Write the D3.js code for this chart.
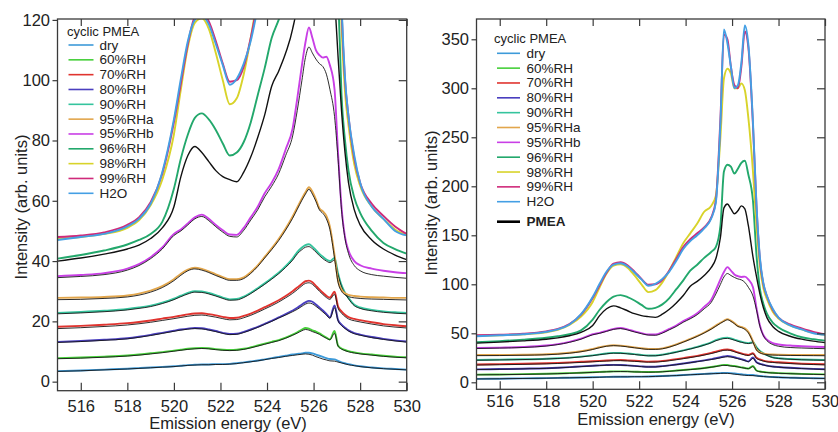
<!DOCTYPE html>
<html><head><meta charset="utf-8">
<script src="https://cdn.jsdelivr.net/npm/d3@7"></script>
<style>
body{margin:0;background:#fff}
svg{display:block}
text{font-family:"Liberation Sans",Arial,Helvetica,sans-serif;fill:#222}
</style>
</head><body>
<svg id="chart" width="838" height="432"></svg>
<script>
// ---- data (emission energy grid, eV) ----
const energy = [515,516,517,518,518.5,519,519.5,520,520.3,520.6,520.9,521.2,521.5,521.8,522.1,522.4,522.7,523,523.3,523.6,523.9,524.2,524.5,524.8,525.1,525.3,525.5,525.65,525.8,525.95,526.1,526.25,526.4,526.55,526.7,526.9,527.05,527.2,527.35,527.5,527.75,528,528.5,529,529.5,530];

const xTicks = [516,518,520,522,524,526,528,530];
const yTicksLeft = [0,20,40,60,80,100,120];
const yTicksRight = [0,50,100,150,200,250,300,350];

const legendNames = ["dry","60%RH","70%RH","80%RH","90%RH","95%RHa","95%RHb","96%RH","98%RH","99%RH","H2O"];
const legendColors = ["#3d9ad9","#46cf3a","#e0342f","#4a3fbf","#35c49d","#e2a64c","#c93fe6","#23a86c","#d8d32a","#cf2a7a","#449fe4"];

const dry   = [3.5,3.7,4.0,4.3,4.5,4.7,4.9,5.1,5.3,5.5,5.6,5.7,5.7,5.8,5.8,5.9,6.1,6.4,6.7,7.0,7.4,7.8,8.2,8.6,9.0,9.2,9.4,9.6,9.6,9.4,9.0,8.6,8.2,7.8,7.5,7.4,6.9,6.4,6.1,5.8,5.4,5.1,4.7,4.4,4.2,4.0];
const dryK  = [3.4,3.6,3.9,4.2,4.4,4.6,4.8,5.0,5.2,5.4,5.5,5.6,5.6,5.7,5.7,5.8,6.0,6.3,6.6,6.9,7.3,7.7,8.0,8.4,8.7,8.9,9.1,9.2,9.1,8.8,8.3,7.9,7.5,7.2,6.9,6.8,6.5,6.2,5.9,5.6,5.3,5.0,4.6,4.3,4.1,3.9];
const rh60  = [7.8,8.0,8.3,8.7,9.0,9.4,9.8,10.3,10.6,10.9,11.1,11.2,11.1,10.8,10.6,10.5,10.6,10.9,11.4,12.0,12.6,13.2,13.8,14.6,15.6,16.4,17.3,17.8,17.6,17.0,16.6,16.0,15.3,14.6,14.0,16.8,12.0,11.0,10.5,10.1,9.7,9.4,9.0,8.6,8.3,8.1];
const rh60K = [7.6,7.8,8.1,8.5,8.8,9.2,9.6,10.1,10.4,10.7,10.9,11.0,10.9,10.6,10.4,10.3,10.4,10.7,11.2,11.8,12.4,13.0,13.6,14.4,15.4,16.1,16.9,17.3,17.1,16.6,16.2,15.7,15.0,14.4,13.9,16.0,11.8,10.8,10.3,9.9,9.5,9.2,8.8,8.4,8.1,7.9];
const rh80  = [13.2,13.5,13.9,14.4,14.9,15.5,16.2,16.9,17.3,17.6,17.8,17.7,17.3,16.8,16.2,15.8,15.9,16.5,17.3,18.2,19.2,20.2,21.3,22.4,23.6,24.5,25.6,26.3,26.8,26.5,25.6,24.6,23.6,22.5,21.3,25.3,20.5,18.9,17.9,17.0,16.1,15.6,14.8,14.2,13.7,13.3];
const rh80K = [13.0,13.3,13.7,14.2,14.7,15.3,16.0,16.7,17.1,17.4,17.6,17.5,17.1,16.6,16.0,15.6,15.7,16.3,17.1,18.0,19.0,20.0,21.1,22.1,23.2,24.0,25.0,25.7,26.1,25.8,25.0,24.1,23.1,22.1,21.0,24.5,20.2,18.6,17.6,16.8,15.9,15.4,14.6,14.0,13.5,13.1];
const rh70  = [18.2,18.5,18.9,19.4,19.8,20.3,20.9,21.5,21.9,22.3,22.6,22.7,22.4,22.0,21.5,21.1,21.2,21.8,22.6,23.6,24.7,25.8,27.0,28.4,30.0,31.2,32.5,33.3,33.5,33.0,31.8,30.6,29.5,28.5,27.9,29.8,25.0,23.3,22.2,21.4,20.8,20.4,19.7,19.1,18.7,18.4];
const rh70K = [17.6,17.9,18.3,18.8,19.2,19.7,20.3,20.9,21.3,21.7,22.0,22.1,21.8,21.4,20.9,20.5,20.6,21.2,22.0,23.0,24.1,25.2,26.4,27.8,29.3,30.5,31.8,32.6,32.8,32.3,31.2,30.0,28.9,27.9,27.3,29.0,24.4,22.7,21.6,20.8,20.2,19.8,19.1,18.5,18.1,17.8];
const rh90  = [22.8,23.1,23.5,24.1,24.6,25.2,26.2,27.5,28.5,29.4,30.0,29.9,29.4,28.7,27.9,27.3,27.4,28.2,29.5,31.0,32.6,34.3,36.1,38.3,40.8,43.0,44.5,45.3,45.6,44.8,43.6,42.4,41.4,40.5,40.0,41.0,36.0,32.0,29.5,27.8,25.5,24.6,23.8,23.3,23.0,22.8];
const rh90K = [22.5,22.8,23.2,23.8,24.3,24.9,25.9,27.2,28.2,29.1,29.7,29.6,29.1,28.4,27.6,27.0,27.1,27.9,29.2,30.7,32.3,34.0,35.8,37.9,40.3,42.4,43.8,44.6,44.8,44.1,43.0,41.8,40.8,40.0,39.5,40.3,35.5,31.6,29.2,27.5,25.2,24.3,23.5,23.0,22.7,22.5];
const rh95a = [27.8,27.9,28.1,28.6,29.2,30.2,31.7,34.0,35.8,37.2,37.8,37.4,36.6,35.6,34.7,34.0,34.0,34.6,36.3,38.6,41.4,44.2,47.3,50.8,54.8,57.8,60.8,62.8,64.5,63.0,60.5,57.5,56.5,55.0,51.5,42.0,33.5,30.5,29.3,28.8,28.4,28.2,28.0,27.9,27.8,27.8];
const rh95aK= [27.2,27.3,27.6,28.1,28.7,29.7,31.2,33.5,35.3,36.8,37.4,37.0,36.2,35.2,34.3,33.6,33.6,34.2,35.9,38.2,41.0,43.8,46.8,50.3,54.2,57.2,60.2,62.2,63.8,62.2,59.8,57.0,55.8,54.0,50.5,41.0,33.0,30.0,28.8,28.2,27.8,27.6,27.4,27.3,27.2,27.1];
const rh95b = [35.0,35.4,36.0,37.5,39.0,41.3,44.5,49.0,50.5,52.5,54.5,55.4,54.0,52.0,50.2,48.8,48.7,51.0,54.5,58.0,62.5,66.0,70.5,77.0,84.0,94.0,105.0,112.5,117.5,114.0,110.0,108.3,107.5,107.8,105.0,97.0,76.0,58.0,48.0,43.5,40.0,38.6,37.5,36.8,36.3,36.0];
const rh95bK= [34.5,34.9,35.5,37.0,38.5,40.8,44.0,48.5,50.0,52.0,54.0,54.8,53.4,51.4,49.6,48.2,48.0,50.2,53.6,57.0,61.3,64.8,69.0,75.0,81.5,90.0,100.0,107.5,111.0,109.0,107.0,105.5,104.5,102.0,97.0,88.0,74.0,57.0,47.5,42.5,38.5,36.8,35.5,35.0,34.6,34.3];
const rh96  = [40.8,42.0,43.5,45.5,47.0,49.0,53.0,64.0,74.0,82.0,87.5,89.0,87.0,83.5,79.0,75.0,76.0,79.5,86.0,95.0,104.0,114.0,120.0,127.0,133.0,138.0,160.0,215.0,222.0,220.0,213.0,218.0,224.0,226.0,212.0,185.0,130.0,95.0,80.0,70.0,61.0,56.0,50.0,46.0,44.0,42.5];
const pmea  = [40.0,41.0,42.3,44.0,45.3,47.5,51.0,58.0,68.0,75.0,78.0,76.0,73.0,70.0,68.0,67.0,66.3,69.5,74.5,81.0,88.5,98.0,103.0,109.0,117.0,126.0,148.0,178.0,182.0,177.0,172.0,175.0,180.0,177.0,160.0,128.0,108.0,90.0,76.0,66.0,57.0,52.0,47.0,44.0,42.0,40.5];
const rh98  = [47.5,48.0,49.0,51.0,53.5,58.5,67.0,82.0,97.0,111.0,119.0,120.5,117.0,109.0,100.0,92.0,94.0,102.0,114.0,128.0,142.0,152.0,162.0,174.0,180.0,190.0,250.0,310.0,320.0,315.0,300.0,300.0,305.0,298.0,270.0,215.0,160.0,118.0,96.0,85.0,72.0,65.0,58.0,54.0,50.5,48.5];
const rh99  = [48.0,48.5,49.5,52.0,54.5,59.5,69.0,86.0,99.0,112.0,121.0,122.5,119.5,113.0,105.5,99.5,100.0,104.5,114.0,126.0,138.0,146.0,152.0,158.0,168.0,185.0,270.0,355.0,350.0,322.0,303.0,300.0,322.0,358.0,342.0,262.0,180.0,125.0,100.0,88.0,74.0,66.0,59.0,55.0,51.5,49.0];
const h2o   = [47.0,48.0,49.0,51.5,54.0,59.0,69.5,87.0,100.5,113.0,120.0,121.5,118.5,112.0,105.0,98.5,100.5,105.5,113.0,124.0,136.0,144.0,150.0,157.0,167.0,183.0,265.0,360.0,346.0,322.0,300.0,303.0,326.0,364.0,345.0,265.0,182.0,127.0,101.0,88.0,75.0,66.0,58.0,54.0,50.0,48.5];

// drawing order: [values, legend index, or -1 for black overlay, -2 for PMEA]
const layers = [
  [dry,0],[dryK,-1],[rh60,1],[rh60K,-1],[rh80,3],[rh80K,-1],[rh70,2],[rh70K,-1],
  [rh90,4],[rh90K,-1],[rh95a,5],[rh95aK,-1],[rh95b,6],[rh95bK,-1],
  [rh96,7],[pmea,-2],[rh98,8],[rh99,9],[h2o,10]
];
layers.forEach(l=>{ if(l[0].length!==energy.length) console.error("length mismatch", l[1], l[0].length); });

const svg = d3.select("#chart");
const FS = 16.5;

const panels = [
  {x0:57.5, x1:406.7, y0:19, y1:390.7, yDom:[-3,120.3], yTicks:yTicksLeft, tickPad:9.6,
   ylabX:21, ylabY:207, xlabX:228, xlabY:428.5, leg:{x:67, y:31, lx0:68.5, lx1:93.5, tx:99.5, y1:45, dy:14.83, pmea:false}},
  {x0:476.5, x1:825, y0:19, y1:389.3, yDom:[-7.14,370.7], yTicks:yTicksRight, tickPad:5.5,
   ylabX:431, ylabY:203, xlabX:656, xlabY:424.5, leg:{x:494, y:38.3, lx0:497, lx1:520, tx:526.5, y1:53.3, dy:14.84, pmea:true}}
];

panels.forEach((p,pi)=>{
  const x = d3.scaleLinear().domain([515,530]).range([p.x0,p.x1]);
  const y = d3.scaleLinear().domain(p.yDom).range([p.y1,p.y0]);
  const g = svg.append("g");
  const clipId = "clip"+pi;
  svg.append("defs").append("clipPath").attr("id",clipId)
     .append("rect").attr("x",p.x0).attr("y",p.y0).attr("width",p.x1-p.x0).attr("height",p.y1-p.y0);

  const line = d3.line().x((d,i)=>x(energy[i])).y(d=>y(d)).curve(d3.curveMonotoneX);
  const plot = g.append("g").attr("clip-path",`url(#${clipId})`);
  layers.forEach(([vals,idx])=>{
    let color, w;
    if(idx>=0){ color = legendColors[idx]; w = 1.9; }
    else if(idx===-1){ color = "#151515"; w = 0.9; }
    else { color = "#111"; w = 1.4; }
    plot.append("path").datum(vals).attr("d",line)
      .attr("fill","none").attr("stroke",color).attr("stroke-width",w)
      .attr("stroke-linejoin","round");
  });

  // frame
  g.append("rect").attr("x",p.x0).attr("y",p.y0).attr("width",p.x1-p.x0).attr("height",p.y1-p.y0)
    .attr("fill","none").attr("stroke","#3a3a3a").attr("stroke-width",1.3);

  const styleAxis = sel=>{
    sel.select(".domain").remove();
    sel.selectAll(".tick line").attr("stroke","#3a3a3a").attr("stroke-width",1.2);
    sel.selectAll(".tick text").style("font-size",FS+"px").attr("fill","#222");
  };
  // bottom (inward ticks, labels)
  g.append("g").attr("transform",`translate(0,${p.y1})`)
    .call(d3.axisBottom(x).tickValues(xTicks).tickSize(-8).tickPadding(p.tickPad).tickFormat(d3.format("d")))
    .call(styleAxis);
  // top (inward ticks)
  g.append("g").attr("transform",`translate(0,${p.y0})`)
    .call(d3.axisTop(x).tickValues(xTicks).tickSize(-7).tickFormat(""))
    .call(styleAxis);
  // left (outward ticks, labels)
  g.append("g").attr("transform",`translate(${p.x0},0)`)
    .call(d3.axisLeft(y).tickValues(p.yTicks).tickSize(5).tickPadding(2.5).tickFormat(d3.format("d")))
    .call(styleAxis);
  // right (inward ticks)
  g.append("g").attr("transform",`translate(${p.x1},0)`)
    .call(d3.axisRight(y).tickValues(p.yTicks).tickSize(-8).tickFormat(""))
    .call(styleAxis);

  // axis titles
  g.append("text").attr("transform",`translate(${p.ylabX},${p.ylabY}) rotate(-90)`)
    .attr("text-anchor","middle").attr("dominant-baseline","central")
    .style("font-size",FS+"px").text("Intensity (arb. units)");
  g.append("text").attr("x",p.xlabX).attr("y",p.xlabY).attr("text-anchor","middle")
    .style("font-size",FS+"px").text("Emission energy (eV)");

  // legend
  const L = p.leg;
  const lg = g.append("g");
  lg.append("text").attr("x",L.x).attr("y",L.y).attr("dominant-baseline","central")
    .style("font-size","13px").text("cyclic PMEA");
  legendNames.forEach((n,i)=>{
    const yy = L.y1 + i*L.dy;
    lg.append("line").attr("x1",L.lx0).attr("x2",L.lx1).attr("y1",yy).attr("y2",yy)
      .attr("stroke",legendColors[i]).attr("stroke-width",1.6);
    lg.append("text").attr("x",L.tx).attr("y",yy).attr("dominant-baseline","central")
      .style("font-size","13.5px").text(n);
  });
  if(L.pmea){
    const yy = L.y1 + 10*L.dy + 20;
    lg.append("line").attr("x1",L.lx0).attr("x2",L.lx1).attr("y1",yy).attr("y2",yy)
      .attr("stroke","#000").attr("stroke-width",2.6);
    lg.append("text").attr("x",L.tx).attr("y",yy).attr("dominant-baseline","central")
      .style("font-size","13.5px").style("font-weight","bold").text("PMEA");
  }
});
</script>
</body></html>
